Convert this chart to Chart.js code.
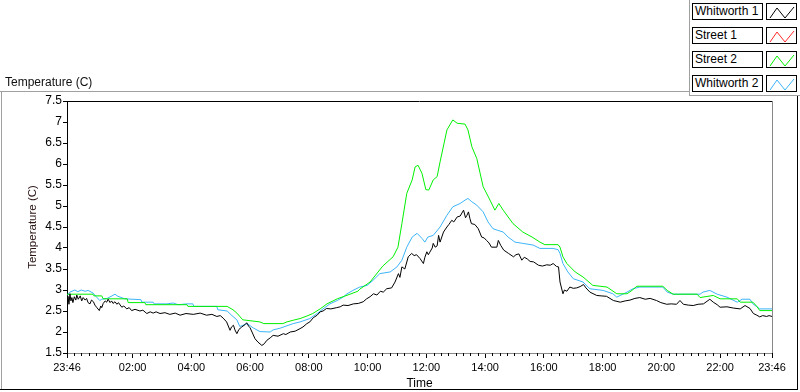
<!DOCTYPE html>
<html>
<head>
<meta charset="utf-8">
<script src="https://cdn.jsdelivr.net/npm/chart.js@4.4.1/dist/chart.umd.min.js"></script>
<style>
body{margin:0;background:#fff;font-family:"Liberation Sans",Arial,sans-serif;}
#wrap{position:relative;width:800px;height:392px;overflow:hidden;background:#fff;}
#c{position:absolute;left:0;top:0;}
.ln{position:absolute;}
.cap{position:absolute;left:5px;top:75px;font-size:12px;color:#111;white-space:nowrap;}
.lgt{position:absolute;left:692px;width:71px;height:17px;border:1px solid #000;box-sizing:border-box;font-size:12px;line-height:15px;padding-left:2px;color:#000;background:#fff;white-space:nowrap;}
.lgi{position:absolute;left:766px;width:31px;height:17px;border:1px solid #000;box-sizing:border-box;background:#fff;}
.lgi svg{position:absolute;left:0;top:0;}
</style>
</head>
<body>
<div id="wrap">
  <canvas id="c" width="800" height="392"></canvas>
  <div class="ln" style="left:0;top:91px;width:690px;height:1px;background:#a0a0a0"></div>
  <div class="ln" style="left:689px;top:0;width:1px;height:96px;background:#a0a0a0"></div>
  <div class="ln" style="left:689px;top:95px;width:111px;height:1px;background:#a0a0a0"></div>
  <div class="ln" style="left:1px;top:91px;width:1px;height:299px;background:#a0a0a0"></div>
  <div class="ln" style="left:0;top:389px;width:798px;height:1px;background:#000"></div>
  <div class="ln" style="left:797px;top:96px;width:1px;height:294px;background:#000"></div>
  <div class="cap">Temperature (C)</div>
  <div id="legend"></div>
</div>
<script>
// x positions are minutes after 23:46
const xTickMinutes=[0,134,254,374,494,614,734,854,974,1094,1214,1334,1440];
const xTickLabels=['23:46','02:00','04:00','06:00','08:00','10:00','12:00','14:00','16:00','18:00','20:00','22:00','23:46'];

const seriesNames=['Whitworth 1','Street 1','Street 2','Whitworth 2'];
const seriesColors=['#000000','#ff2a2a','#00f000','#3cb4f8'];

// Whitworth 1
const w1Min=[0,2,4,6,8,10,12,15,18,20,
  23,27,30,33,37,40,43,47,50,54,
  57,61,66,69,71,74,78,81,84,88,
  91,94,98,102,105,112,116,122,127,132,
  139,149,155,163,170,176,182,190,200,210,
  221,231,243,258,272,285,296,306,313,319,
  326,333,336,340,343,347,351,357,364,367,
  371,374,384,390,398,403,408,415,421,431,
  442,447,456,466,476,482,490,496,503,511,
  517,523,530,539,551,558,564,574,585,595,
  605,612,619,626,633,640,646,653,663,670,
  677,680,684,690,697,704,709,714,721,728,
  731,735,738,741,746,748,752,756,759,762,
  769,776,780,786,790,797,803,810,814,817,
  820,823,826,833,840,847,852,857,862,867,
  878,881,886,892,902,912,917,923,929,934,
  940,946,953,963,971,980,987,993,1000,1004,
  1007,1013,1016,1021,1027,1034,1041,1048,1055,1060,
  1068,1082,1091,1102,1116,1130,1140,1150,1160,1170,
  1181,1191,1204,1213,1225,1234,1245,1252,1259,1269,
  1279,1289,1300,1313,1320,1328,1334,1348,1361,1375,
  1385,1395,1402,1409,1415,1421,1429,1434,1440];
const w1Temp=[2.72,2.85,2.66,2.91,2.74,2.82,2.70,2.84,2.76,2.88,
  2.78,2.86,2.74,2.82,2.76,2.80,2.70,2.67,2.76,2.72,
  2.64,2.58,2.51,2.62,2.58,2.68,2.74,2.71,2.78,2.70,
  2.74,2.68,2.72,2.66,2.70,2.59,2.62,2.55,2.58,2.51,
  2.54,2.50,2.52,2.44,2.48,2.45,2.48,2.44,2.46,2.42,
  2.45,2.40,2.44,2.42,2.45,2.40,2.42,2.37,2.39,2.33,
  2.24,2.04,2.12,2.16,2.05,1.96,2.06,2.12,2.18,2.22,
  2.14,2.10,1.84,1.76,1.68,1.72,1.80,1.86,1.92,1.90,
  1.96,1.94,2.00,2.02,2.08,2.12,2.20,2.24,2.34,2.40,
  2.48,2.50,2.56,2.55,2.58,2.60,2.64,2.63,2.67,2.68,
  2.72,2.79,2.84,2.91,2.88,2.97,2.95,3.03,3.05,3.19,
  3.39,3.30,3.55,3.50,3.79,3.87,3.82,3.84,3.75,3.63,
  3.78,3.91,3.84,3.90,4.00,4.11,4.02,4.05,4.30,4.14,
  4.38,4.50,4.56,4.66,4.62,4.74,4.76,4.90,4.72,4.78,
  4.86,4.70,4.58,4.56,4.46,4.26,4.24,4.18,4.12,4.02,
  4.02,4.18,4.06,3.95,3.87,3.79,3.84,3.86,3.71,3.78,
  3.74,3.68,3.67,3.59,3.57,3.60,3.59,3.63,3.56,3.55,
  3.19,2.91,3.00,2.97,3.07,3.04,3.05,3.08,3.13,3.05,
  2.95,2.87,2.86,2.85,2.75,2.71,2.74,2.76,2.80,2.82,
  2.78,2.80,2.75,2.70,2.66,2.67,2.66,2.75,2.66,2.64,
  2.63,2.66,2.67,2.78,2.71,2.65,2.59,2.60,2.57,2.55,
  2.63,2.56,2.44,2.40,2.36,2.39,2.37,2.39,2.37];

// Street 1 (no readings shown)
const s1Min=[];
const s1Temp=[];

// Street 2
const s2Min=[0,53,55,71,74,123,125,159,161,245,
  247,327,339,347,359,394,402,441,449,462,
  476,490,502,517,531,552,578,594,598,619,
  645,666,676,684,694,705,711,717,725,733,
  739,748,756,762,776,788,797,813,819,827,
  837,850,864,874,882,891,911,931,950,966,
  976,1003,1007,1013,1021,1038,1054,1074,1103,1123,
  1144,1154,1164,1217,1226,1238,1287,1293,1320,1334,
  1369,1375,1401,1409,1415,1440];
const s2Temp=[2.90,2.90,2.86,2.86,2.79,2.79,2.70,2.70,2.65,2.65,
  2.61,2.61,2.53,2.45,2.29,2.24,2.20,2.20,2.24,2.28,
  2.32,2.38,2.44,2.55,2.67,2.79,2.90,2.97,3.02,3.19,
  3.57,3.79,4.02,4.58,5.30,5.62,5.93,5.97,5.78,5.39,
  5.38,5.62,5.70,6.05,6.81,7.05,6.97,6.95,6.81,6.41,
  6.13,5.46,5.14,4.90,5.06,4.90,4.58,4.38,4.26,4.14,
  4.08,4.08,4.02,3.79,3.63,3.43,3.31,3.11,3.07,2.91,
  2.91,2.99,3.09,3.09,2.99,2.90,2.90,2.82,2.87,2.79,
  2.79,2.71,2.71,2.61,2.51,2.51];

// Whitworth 2
const w2Min=[0,6,16,22,29,37,43,53,59,67,
  71,82,92,98,104,118,151,153,176,178,
  204,217,227,245,257,259,306,308,327,337,
  347,353,368,380,394,415,421,435,462,476,
  496,511,523,537,552,564,572,584,598,613,
  625,639,660,674,684,694,705,715,725,731,
  737,748,762,776,788,803,813,819,827,837,
  850,860,870,880,891,901,915,931,952,966,
  993,1003,1007,1013,1023,1034,1054,1068,1095,1115,
  1123,1144,1156,1170,1217,1226,1238,1293,1299,1313,
  1328,1348,1369,1379,1395,1401,1415,1440];
const w2Temp=[2.87,2.95,3.00,2.96,3.00,2.97,2.99,2.93,2.85,2.75,
  2.78,2.80,2.86,2.90,2.85,2.79,2.77,2.71,2.71,2.67,
  2.67,2.69,2.65,2.67,2.67,2.61,2.61,2.53,2.50,2.39,
  2.29,2.13,2.20,2.10,2.01,2.00,2.05,2.09,2.20,2.24,
  2.32,2.44,2.55,2.67,2.75,2.83,2.91,2.99,3.07,3.11,
  3.23,3.39,3.43,3.55,3.71,4.02,4.26,4.35,4.23,4.14,
  4.26,4.30,4.50,4.78,4.98,5.06,5.14,5.18,5.10,5.02,
  4.86,4.62,4.46,4.42,4.38,4.26,4.14,4.11,4.07,3.99,
  3.99,3.96,3.87,3.63,3.43,3.27,3.19,3.03,2.99,2.91,
  2.83,2.95,3.03,3.07,3.07,2.95,2.90,2.90,2.95,2.99,
  2.90,2.83,2.71,2.78,2.78,2.67,2.55,2.55];

const FONT='"Liberation Sans", Arial, sans-serif';
const toPts=(mins,temps)=>mins.map((m,i)=>({x:m,y:temps[i]}));
const seriesData=[toPts(w1Min,w1Temp),toPts(s1Min,s1Temp),toPts(s2Min,s2Temp),toPts(w2Min,w2Temp)];

// legend boxes
const legend=document.getElementById('legend');
seriesNames.forEach((name,i)=>{
  const top=3+i*24;
  legend.insertAdjacentHTML('beforeend',
    `<div class="lgt" style="top:${top}px">${name}</div>`+
    `<div class="lgi" style="top:${top}px"><svg width="31" height="17"><polyline points="3,14 10,4 18,14 27,3" fill="none" stroke="${seriesColors[i]}" stroke-width="1"/></svg></div>`);
});

const framePlugin={
  id:'frame',
  afterDraw(chart){
    const {ctx,chartArea:a,scales:{x}}=chart;
    ctx.save();
    ctx.lineWidth=1;
    ctx.strokeStyle='#000';
    ctx.beginPath();ctx.moveTo(a.left,Math.round(a.top)+0.5);ctx.lineTo(a.right,Math.round(a.top)+0.5);ctx.stroke();
    ctx.strokeStyle='#888';
    ctx.beginPath();ctx.moveTo(Math.round(a.right)+0.5,a.top);ctx.lineTo(Math.round(a.right)+0.5,a.bottom);ctx.stroke();
    // minor ticks every quarter hour
    ctx.strokeStyle='#000';
    ctx.beginPath();
    for(let m=14;m<1440;m+=15){
      if(xTickMinutes.includes(m)) continue;
      const px=Math.round(x.getPixelForValue(m))+0.5;
      ctx.moveTo(px,a.bottom);ctx.lineTo(px,a.bottom+3);
    }
    ctx.stroke();
    ctx.restore();
  }
};

new Chart(document.getElementById('c'),{
  type:'line',
  data:{datasets:seriesNames.map((name,i)=>({
    label:name,
    data:seriesData[i],
    borderColor:seriesColors[i],
    backgroundColor:seriesColors[i],
    borderWidth:1,
    pointRadius:0,
    tension:0,
    fill:false
  }))},
  options:{
    responsive:false,
    animation:false,
    layout:{padding:{left:0,right:28,top:101,bottom:0}},
    plugins:{legend:{display:false},tooltip:{enabled:false}},
    scales:{
      x:{
        type:'linear',min:0,max:1440,
        afterBuildTicks:s=>{s.ticks=xTickMinutes.map(v=>({value:v}));},
        afterFit:s=>{s.height=39;},
        ticks:{autoSkip:false,maxRotation:0,padding:3,color:'#000',font:{family:FONT,size:11},
          callback:(v,i)=>xTickLabels[i]},
        grid:{drawOnChartArea:false,tickLength:5,tickColor:'#000'},
        border:{color:'#888',width:1},
        title:{display:true,text:'Time',color:'#000',font:{family:FONT,size:12},padding:{top:0,bottom:1}}
      },
      y:{
        min:1.5,max:7.5,
        afterFit:s=>{s.width=67;},
        ticks:{stepSize:0.5,padding:1,color:'#000',font:{family:FONT,size:12},callback:v=>String(v)},
        grid:{drawOnChartArea:false,tickLength:4,tickColor:'#000'},
        border:{color:'#000',width:1},
        title:{display:true,text:'Temperature (C)',color:'#2a1414',font:{family:FONT,size:11.5},padding:{top:26,bottom:0}}
      }
    }
  },
  plugins:[framePlugin]
});
</script>
</body>
</html>
